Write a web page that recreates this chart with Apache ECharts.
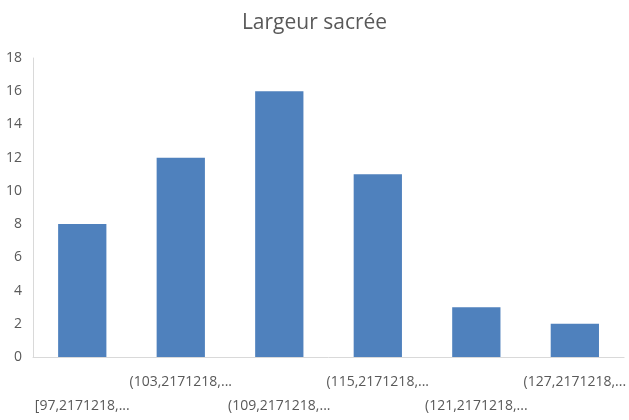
<!DOCTYPE html>
<html>
<head>
<meta charset="utf-8">
<script src="https://cdn.jsdelivr.net/npm/echarts@6/dist/echarts.min.js"></script>
<style>
html, body { margin: 0; padding: 0; background: #fff; }
#chart { width: 629px; height: 420px; }
</style>
</head>
<body>
<div id="chart"></div>
<script>
// classes de l'histogramme
var categories = ['[97,2171218,...', '(103,2171218,...', '(109,2171218,...', '(115,2171218,...', '(121,2171218,...', '(127,2171218,...'];
var counts = [8, 12, 16, 11, 3, 2];

var chart = echarts.init(document.getElementById('chart'));
var option = {
	animation: false,
	title: {
		text: 'Largeur sacrée',
		left: 'center',
		top: 8,
		textStyle: { fontFamily: 'Open Sans', fontSize: 21, fontWeight: 'normal', color: '#595959' }
	},
	grid: { left: 33, right: 4, top: 58, bottom: 63 },
	xAxis: {
		type: 'category',
		data: categories,
		axisLine: { lineStyle: { color: '#d9d9d9' } },
		axisTick: { show: false },
		axisLabel: {
			interval: 0,
			margin: 13,
			lineHeight: 24,
			color: '#595959',
			fontFamily: 'Open Sans',
			fontSize: 14,
			// étiquettes en quinconce comme dans Excel
			formatter: function (v, i) {
				return i % 2 === 0 ? '\n' + v : v;
			}
		}
	},
	yAxis: {
		type: 'value',
		min: 0,
		max: 18,
		interval: 2,
		axisLine: { show: true, lineStyle: { color: '#d9d9d9' } },
		splitLine: { show: false },
		axisLabel: { color: '#595959', fontFamily: 'Open Sans', fontSize: 14, margin: 11 }
	},
	series: [{
		type: 'bar',
		data: counts,
		barWidth: '49%',
		itemStyle: { color: '#4f81bd' }
	}]
};
chart.setOption(option);
</script>
</body>
</html>
